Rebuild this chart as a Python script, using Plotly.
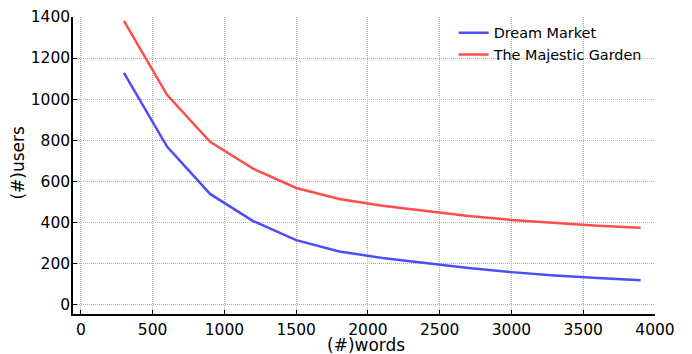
import plotly.graph_objects as go

words = [300, 600, 900, 1200, 1500, 1800, 2100, 2400, 2700, 3000, 3300, 3600, 3900]
dream_market = [1128, 769, 538, 406, 313, 258, 226, 201, 177, 157, 141, 129, 118]
majestic_garden = [1381, 1021, 792, 661, 567, 513, 480, 454, 430, 411, 396, 383, 373]

x_ticks = [0, 500, 1000, 1500, 2000, 2500, 3000, 3500, 4000]
y_ticks = [0, 200, 400, 600, 800, 1000, 1200, 1400]

x_title = "(#)words"
y_title = "(#)users"

FONT = "DejaVu Sans"

fig = go.Figure()
fig.add_trace(go.Scatter(x=words, y=dream_market, mode="lines", name="Dream Market",
                         line=dict(color="#4d4dff", width=2.5)))
fig.add_trace(go.Scatter(x=words, y=majestic_garden, mode="lines", name="The Majestic Garden",
                         line=dict(color="#ff4d4d", width=2.5)))

axis_common = dict(
    showgrid=True, gridcolor="#b0b0b0", griddash="1px,1px", gridwidth=1,
    zeroline=False, showline=True, linecolor="black", linewidth=1.5,
    ticks="inside", ticklen=4, tickcolor="black", tickwidth=1,
    tickfont=dict(family=FONT, size=15.5, color="black"),
    automargin=False,
)

# the page body adds an 8px offset, so the figure is 8px smaller and margins shifted
fig.update_layout(
    width=684, height=346,
    margin=dict(l=65, r=37, t=9, b=40),
    paper_bgcolor="white", plot_bgcolor="white",
    font=dict(family=FONT, color="black"),
    xaxis=dict(range=[-55, 4000], tickvals=x_ticks, ticktext=[str(v) for v in x_ticks],
               ticklabelstandoff=1, **axis_common),
    yaxis=dict(range=[-47, 1400], tickvals=y_ticks, ticktext=[str(v) for v in y_ticks],
               ticklabelstandoff=-2, **axis_common),
    legend=dict(x=0.654, y=1.0, xanchor="left", yanchor="top",
                bgcolor="rgba(0,0,0,0)", borderwidth=0,
                font=dict(family=FONT, size=14.4, color="black"),
                itemwidth=30, tracegroupgap=0),
    showlegend=True,
    annotations=[
        dict(text=x_title, xref="paper", yref="paper", x=0.503, y=0,
             xanchor="center", yanchor="middle", yshift=-30.5, showarrow=False,
             font=dict(family=FONT, size=17, color="black")),
        dict(text=y_title, xref="paper", yref="paper", x=0, y=0.51,
             xanchor="center", yanchor="middle", xshift=-55, textangle=-90,
             showarrow=False, font=dict(family=FONT, size=17, color="black")),
    ],
)

fig.write_html("out.html")
